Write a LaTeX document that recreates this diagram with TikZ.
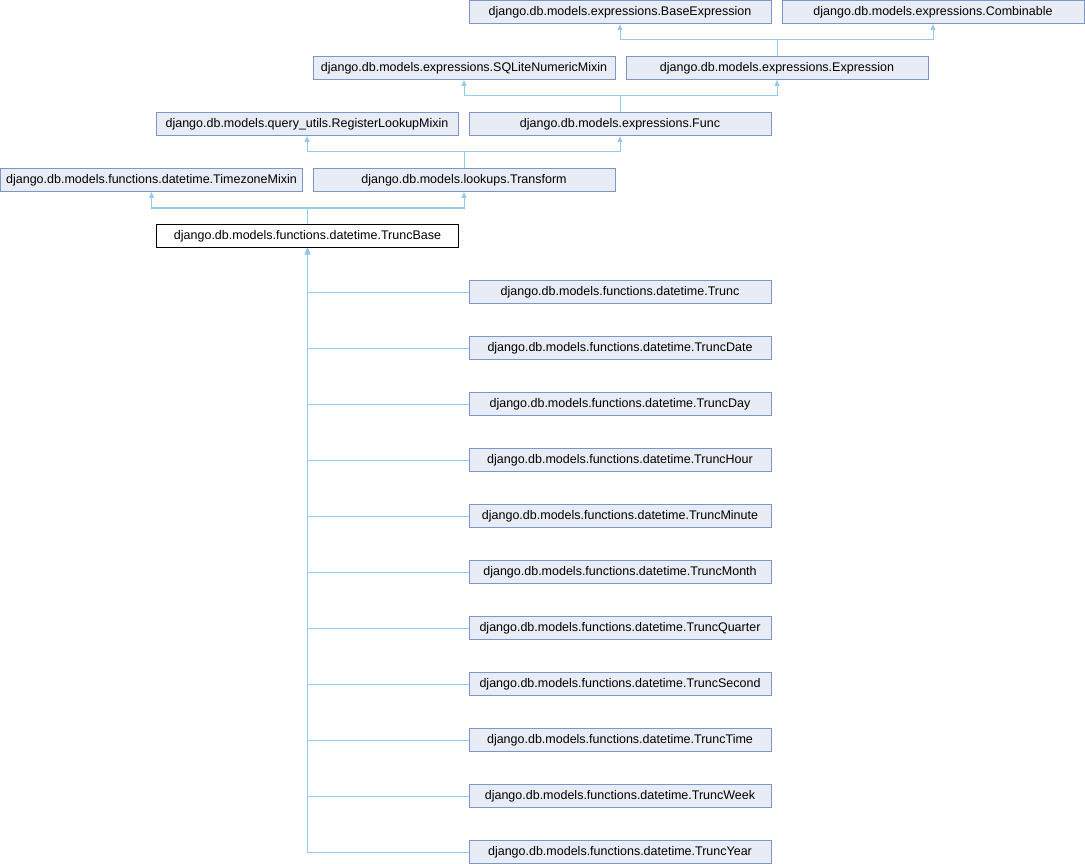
\documentclass[tikz,border=0pt]{standalone}
\usepackage{fontspec}
\setmainfont{Liberation Sans}
\usetikzlibrary{arrows.meta}
\definecolor{nodefill}{HTML}{E8ECF4}
\definecolor{nodeline}{HTML}{8094C8}
\definecolor{edgecol}{HTML}{97CAE8}
\tikzset{
  cls/.style={draw=nodeline, fill=nodefill, line width=1pt, minimum width=302pt, minimum height=23pt, inner sep=0pt, font=\fontsize{12.5}{15}\selectfont, anchor=center},
  cur/.style={cls, draw=black, fill=white},
  arr/.style={draw=edgecol, line width=1pt, -{Triangle[width=5pt,length=6pt]}},
}
\begin{document}
\begin{tikzpicture}[x=1pt,y=-1pt]
\useasboundingbox (0,0) rectangle (1085,864);
% row 0
\node[cls] (base) at (620,12) {django.db.models.expressions.BaseExpression};
\node[cls] (comb) at (933,12) {django.db.models.expressions.Combinable};
% row 1
\node[cls] (sqlite) at (464,68) {django.db.models.expressions.SQLiteNumericMixin};
\node[cls] (expr) at (777,68) {django.db.models.expressions.Expression};
% row 2
\node[cls] (reg) at (307,124) {django.db.models.query\_utils.RegisterLookupMixin};
\node[cls] (func) at (620,124) {django.db.models.expressions.Func};
% row 3
\node[cls] (tz) at (151.5,180) {django.db.models.functions.datetime.TimezoneMixin};
\node[cls] (trans) at (464,180) {django.db.models.lookups.Transform};
% row 4
\node[cur] (tb) at (307.5,236) {django.db.models.functions.datetime.TruncBase};
% children
\node[cls] (c1) at (620,292) {django.db.models.functions.datetime.Trunc};
\node[cls] (c2) at (620,348) {django.db.models.functions.datetime.TruncDate};
\node[cls] (c3) at (620,404) {django.db.models.functions.datetime.TruncDay};
\node[cls] (c4) at (620,460) {django.db.models.functions.datetime.TruncHour};
\node[cls] (c5) at (620,516) {django.db.models.functions.datetime.TruncMinute};
\node[cls] (c6) at (620,572) {django.db.models.functions.datetime.TruncMonth};
\node[cls] (c7) at (620,628) {django.db.models.functions.datetime.TruncQuarter};
\node[cls] (c8) at (620,684) {django.db.models.functions.datetime.TruncSecond};
\node[cls] (c9) at (620,740) {django.db.models.functions.datetime.TruncTime};
\node[cls] (c10) at (620,796) {django.db.models.functions.datetime.TruncWeek};
\node[cls] (c11) at (620,852) {django.db.models.functions.datetime.TruncYear};
% midline coordinates
\coordinate (m1) at (0,40);
\coordinate (m2) at (0,96);
\coordinate (m3) at (0,152);
\coordinate (m4) at (0,208);
% edges
\draw[arr] (expr.north) -- (expr.north |- m1) -| (base.south);
\draw[arr] (expr.north) -- (expr.north |- m1) -| (comb.south);
\draw[arr] (func.north) -- (func.north |- m2) -| (sqlite.south);
\draw[arr] (func.north) -- (func.north |- m2) -| (expr.south);
\draw[arr] (trans.north) -- (trans.north |- m3) -| (reg.south);
\draw[arr] (trans.north) -- (trans.north |- m3) -| (func.south);
\draw[arr] (tb.north) -- (tb.north |- m4) -| (tz.south);
\draw[arr] (tb.north) -- (tb.north |- m4) -| (trans.south);
\foreach \c in {c1,c2,c3,c4,c5,c6,c7,c8,c9,c10,c11}{
  \draw[arr] (\c.west) -| (tb.south);
}
\end{tikzpicture}
\end{document}
